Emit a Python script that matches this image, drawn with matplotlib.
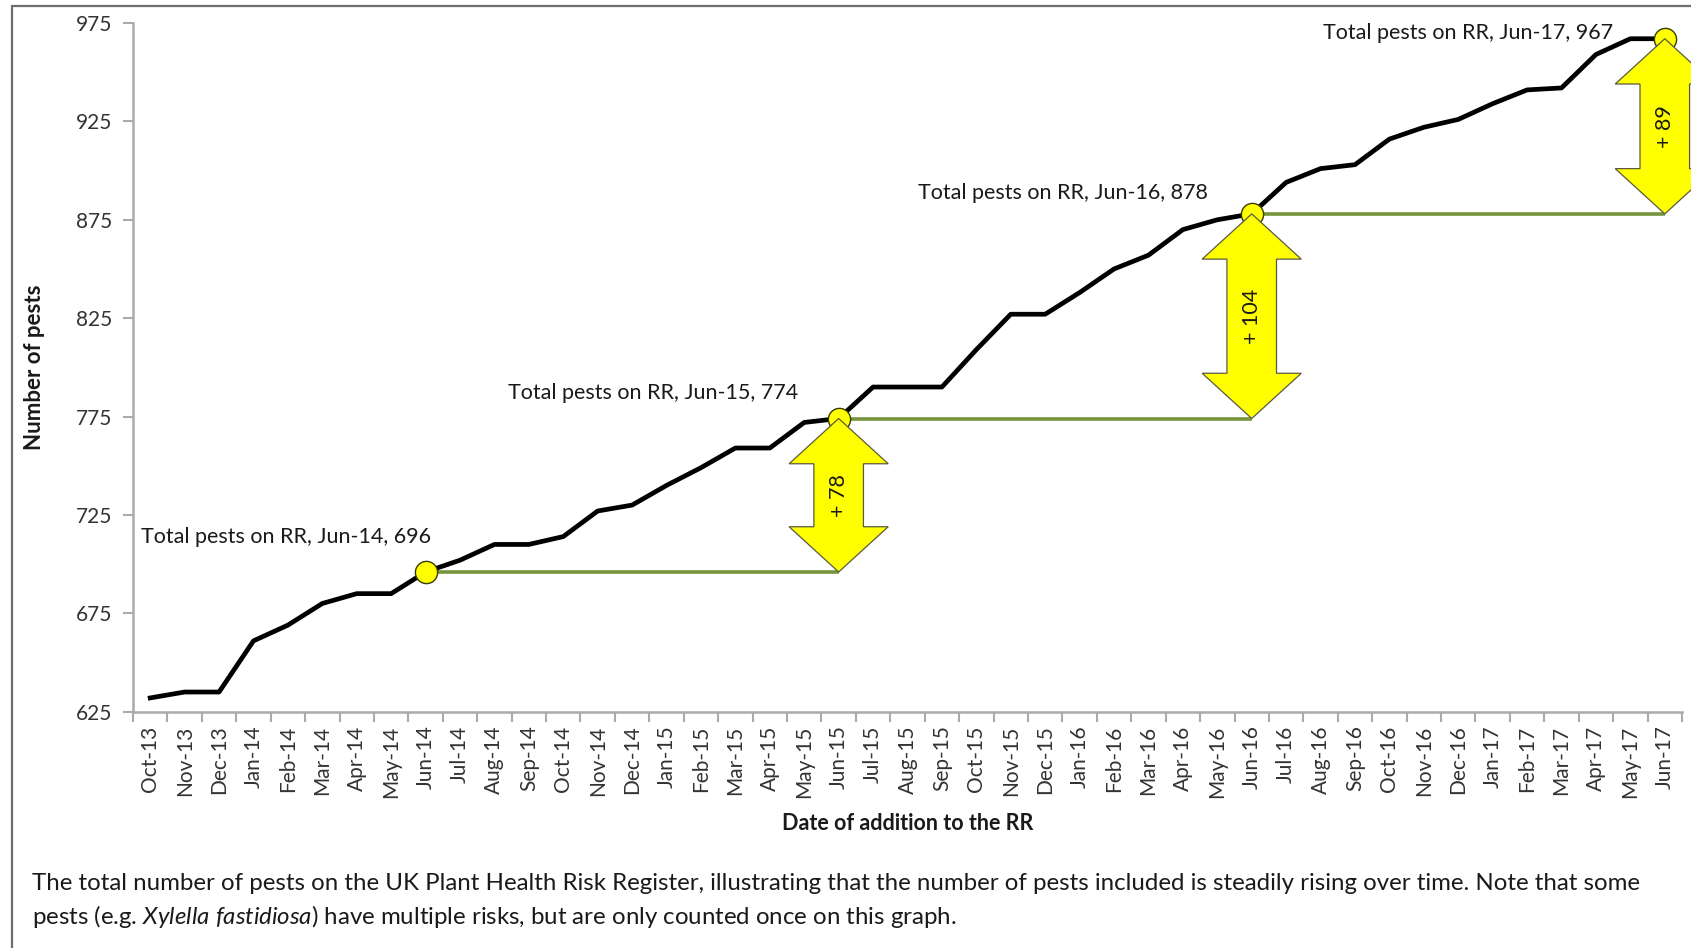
import matplotlib
matplotlib.use("Agg")
import matplotlib.pyplot as plt
from matplotlib.patches import Polygon, Rectangle

plt.rcParams['font.family'] = ['Lato', 'DejaVu Sans']
plt.rcParams['mathtext.fontset'] = 'custom'
plt.rcParams['mathtext.rm'] = 'Lato'
plt.rcParams['mathtext.it'] = 'Lato:italic'

# ---------------- data ----------------
months = ['Oct-13', 'Nov-13', 'Dec-13',
          'Jan-14', 'Feb-14', 'Mar-14', 'Apr-14', 'May-14', 'Jun-14',
          'Jul-14', 'Aug-14', 'Sep-14', 'Oct-14', 'Nov-14', 'Dec-14',
          'Jan-15', 'Feb-15', 'Mar-15', 'Apr-15', 'May-15', 'Jun-15',
          'Jul-15', 'Aug-15', 'Sep-15', 'Oct-15', 'Nov-15', 'Dec-15',
          'Jan-16', 'Feb-16', 'Mar-16', 'Apr-16', 'May-16', 'Jun-16',
          'Jul-16', 'Aug-16', 'Sep-16', 'Oct-16', 'Nov-16', 'Dec-16',
          'Jan-17', 'Feb-17', 'Mar-17', 'Apr-17', 'May-17', 'Jun-17']
pests = [632, 635, 635,
         661, 669, 680, 685, 685, 696,
         702, 710, 710, 714, 727, 730,
         740, 749, 759, 759, 772, 774,
         790, 790, 790, 809, 827, 827,
         838, 850, 857, 870, 875, 878,
         894, 901, 903, 916, 922, 926,
         934, 941, 942, 959, 967, 967]
highlight_months = ['Jun-14', 'Jun-15', 'Jun-16', 'Jun-17']
y_ticks = [625, 675, 725, 775, 825, 875, 925, 975]

# ---------------- styles ----------------
label_offsets_px = [(5, 35), (-40, 26), (-44, 21), (-52, 6)]
W, H, DPI = 1691, 948, 100
fig = plt.figure(figsize=(W / DPI, H / DPI), dpi=DPI)
ax = fig.add_axes([133 / W, 1 - 711.7 / H, (1682 - 133) / W, (711.7 - 23) / H])

x = list(range(len(months)))
ax.plot(x, pests, color='black', lw=3.4, zorder=3, solid_joinstyle='round')

ax.set_xlim(-0.5, len(months) - 0.5)
ax.set_ylim(625, 975)
ax.set_yticks(y_ticks)
ax.set_xticks(x)
ax.set_xticklabels(months, rotation=90)
ax.set_xticks([i - 0.5 for i in range(len(months) + 1)], minor=True)
ax.tick_params(axis='x', which='major', length=0, pad=10, labelsize=15, colors='#333333')
ax.tick_params(axis='x', which='minor', length=7, width=1.5, color='#ABABAB')
ax.tick_params(axis='y', length=7, width=1.5, color='#ABABAB', labelsize=15,
               labelcolor='#333333', pad=8)
for s in ['top', 'right']:
    ax.spines[s].set_visible(False)
for s in ['left', 'bottom']:
    ax.spines[s].set_color('#ABABAB')
    ax.spines[s].set_linewidth(1.8)

ax.set_ylabel('Number of pests', fontsize=16, fontweight='bold', color='#1a1a1a')
ax.set_xlabel('Date of addition to the RR', fontsize=15.5, fontweight='bold', color='#1a1a1a',
              labelpad=11)
ax.yaxis.set_label_coords(-0.057, 0.5)

hx = [months.index(m) for m in highlight_months]
hy = [pests[i] for i in hx]

# green baseline lines
for k in range(len(hx) - 1):
    ax.plot([hx[k], hx[k + 1]], [hy[k], hy[k]], color='#77933C', lw=2.6, zorder=2,
            solid_capstyle='butt')

# markers
ax.plot(hx, hy, linestyle='none', marker='o', markersize=16, markerfacecolor='#FFFF00',
        markeredgecolor='#3a3a00', markeredgewidth=1.0, zorder=4)

# double-headed block arrows
head_len = 23.0
head_hw = 1.44
shaft_hw = 0.72
for k in range(1, len(hx)):
    xc = hx[k]
    y0 = hy[k - 1]
    y1 = hy[k]
    verts = [
        (xc, y1),
        (xc + head_hw, y1 - head_len),
        (xc + shaft_hw, y1 - head_len),
        (xc + shaft_hw, y0 + head_len),
        (xc + head_hw, y0 + head_len),
        (xc, y0),
        (xc - head_hw, y0 + head_len),
        (xc - shaft_hw, y0 + head_len),
        (xc - shaft_hw, y1 - head_len),
        (xc - head_hw, y1 - head_len),
    ]
    poly = Polygon(verts, closed=True, facecolor='#FFFF00', edgecolor='#5a5a40', lw=0.9,
                   zorder=5, clip_on=False)
    ax.add_patch(poly)
    ax.text(xc, (y0 + y1) / 2, f'+ {y1 - y0}', rotation=90, ha='center', va='center',
            fontsize=15.5, color='#1a1a1a', zorder=6, clip_on=False)

# labels
for (m, xi, yi), (dx, dy) in zip(zip(highlight_months, hx, hy), label_offsets_px):
    ax.annotate(f'Total pests on RR, {m}, {yi}', xy=(xi, yi), xytext=(dx, dy),
                textcoords='offset pixels', ha='right', va='center', fontsize=15.5,
                color='#1a1a1a', zorder=6, annotation_clip=False)

# caption
fig.text(32 / W, 1 - 884 / H,
         'The total number of pests on the UK Plant Health Risk Register, illustrating that the '
         'number of pests included is steadily rising over time. Note that some',
         fontsize=17.3, color='#1a1a1a', va='center', ha='left')
fig.text(32 / W, 1 - 917 / H,
         r'pests (e.g. $\mathit{Xylella\ fastidiosa}$) have multiple risks, but are only counted once on this graph.',
         fontsize=17.3, color='#1a1a1a', va='center', ha='left')

# outer frame
fig.patches.append(Rectangle((12 / W, -0.1), 1.2, 1.1 - 6 / H, transform=fig.transFigure,
                             fill=False, edgecolor='#6e6e6e', lw=1.6, zorder=0))

fig.savefig('out.png', dpi=DPI)
